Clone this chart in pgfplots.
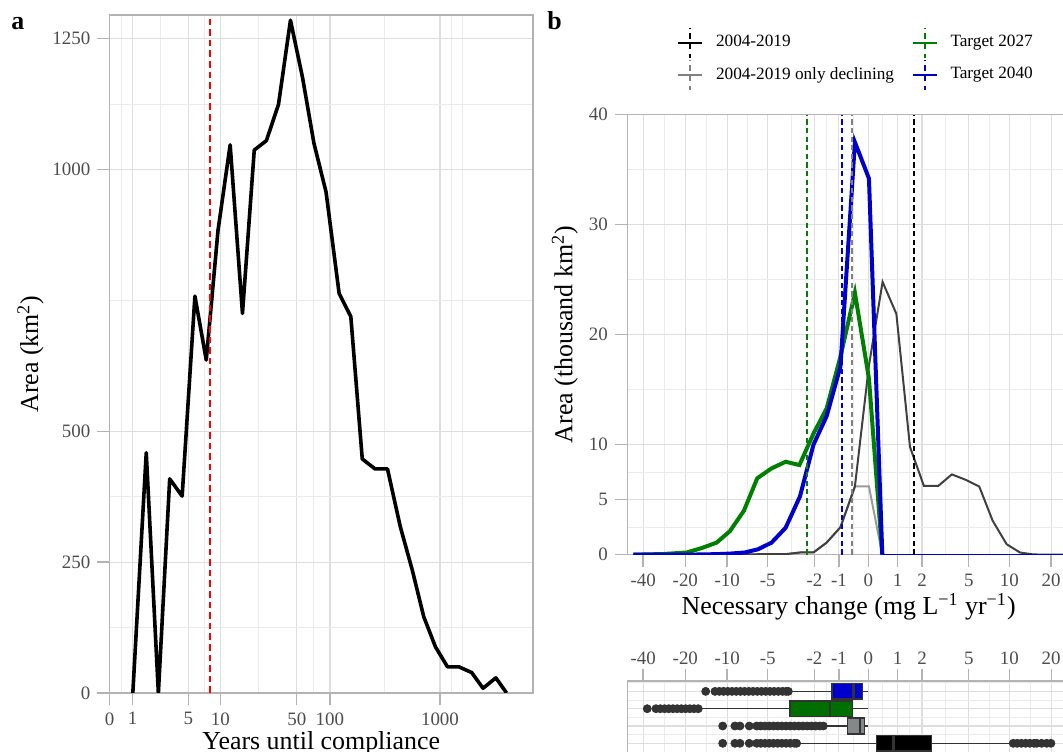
\documentclass[border=0pt]{standalone}
\usepackage{fontspec}
\setmainfont{Liberation Serif}
\usepackage{pgfplots}
\pgfplotsset{compat=1.18}
\usepgfplotslibrary{statistics}

\definecolor{tickgray}{HTML}{4D4D4D}
\definecolor{bordergray}{HTML}{B3B3B3}
\definecolor{gridmaj}{HTML}{DEDEDE}
\definecolor{gridmin}{HTML}{EBEBEB}
\definecolor{bgreen}{HTML}{008000}
\definecolor{bblue}{HTML}{0000CD}
\definecolor{dgray}{HTML}{404040}
\definecolor{lgray}{HTML}{9A9A9A}
\definecolor{vgray}{HTML}{808080}
\definecolor{boxgreen}{HTML}{006E00}
\definecolor{boxgray}{HTML}{848888}
\definecolor{dotgray}{HTML}{333333}

\pgfplotsset{
  gg/.style={
    scale only axis,
    axis line style={bordergray, line width=0.7bp},
    tick style={bordergray, line width=0.7bp},
    major tick length=6.2bp, minor tick length=0pt,
    tick align=outside,
    grid=both,
    major grid style={gridmaj, line width=0.6bp},
    minor grid style={gridmin, line width=0.45bp},
    ticklabel style={font=\fontsize{9.5}{11}\selectfont, text=tickgray},
    label style={font=\fontsize{13}{15}\selectfont},
  },
  % pseudo-log x axis of panel b (positions = asinh(x/2)/ln 10)
  changex/.style={
    xmin=-1.715, xmax=1.436,
    xtick={-1.6023,-1.3021,-1.0043,-0.7154,-0.3828,-0.2090,0,0.2090,0.3828,0.7154,1.0043,1.3021},
    xticklabels={-40,-20,-10,-5,-2,-1,0,1,2,5,10,20},
    minor xtick={-1.4522,-1.1532,-0.8598,-0.5491,-0.2959,-0.1045,0.1045,0.2959,0.5491,0.8598,1.1532},
  },
  vline/.style={line width=1bp, dash pattern=on 2.6bp off 1.7bp},
}

\begin{document}
\begin{tikzpicture}
\path[use as bounding box] (0,0) rectangle (531.5bp,376bp);

\node[anchor=base west, inner sep=0pt, font=\fontsize{13}{15}\selectfont\bfseries] at (5.5bp,361bp) {a};
\node[anchor=base west, inner sep=0pt, font=\fontsize{13}{15}\selectfont\bfseries] at (273.5bp,361bp) {b};

% ---------- panel a ----------
\begin{axis}[gg,
  at={(54.85bp,29.5bp)}, anchor=south west,
  width=211.55bp, height=339bp,
  xmin=0, xmax=3.843, ymin=0, ymax=1295,
  xtick={0,0.20899,0.71539,1.00428,1.69915,2.00004,3.0},
  xticklabels={0,1,5,10,50,100,1000},
  minor xtick={0.1045,0.4622,0.8598,1.3517,1.8496,2.5,3.1,3.2},
  ytick={0,250,500,1000,1250},
  yticklabels={0,250,500,1000,1250},
  minor ytick={125,375,750,1125},
  xtick pos=left, ytick pos=left,
  xlabel={Years until compliance},
  ylabel={Area (km\textsuperscript{2})},
  xlabel style={at={(axis description cs:0.5,-0.0826)}, anchor=base},
  ylabel style={at={(axis description cs:-0.187,0.5)}, anchor=center},
]
\addplot[black, line width=1.8bp, line join=round] coordinates {
 (0.21,0) (0.332,459) (0.442,0) (0.545,409) (0.658,376) (0.774,758)
 (0.877,636) (0.984,884) (1.094,1047) (1.206,725) (1.313,1037) (1.423,1055)
 (1.533,1124) (1.642,1285) (1.752,1175) (1.855,1050) (1.965,957) (2.084,763)
 (2.19,719) (2.294,447) (2.41,428) (2.523,428) (2.639,318) (2.748,235)
 (2.852,146) (2.959,88) (3.068,50) (3.172,50) (3.288,39) (3.391,9)
 (3.507,29) (3.605,0)
};
\addplot[red, line width=1bp, dash pattern=on 3.3bp off 2bp] coordinates {(0.912,0) (0.912,1295)};
\end{axis}

% ---------- panel b ----------
\begin{axis}[gg, changex,
  at={(313.65bp,98.65bp)}, anchor=south west,
  width=221.35bp, height=220bp,
  ymin=0, ymax=40,
  ytick={0,5,10,20,30,40},
  yticklabels={0,5,10,20,30,40},
  minor ytick={2.5,7.5,15,25,35},
  xtick pos=left, ytick pos=left,
  xlabel={Necessary change (mg L\textsuperscript{−1} yr\textsuperscript{−1})},
  ylabel={Area (thousand km\textsuperscript{2})},
  xlabel style={at={(axis description cs:0.5,-0.135)}, anchor=base},
  ylabel style={at={(axis description cs:-0.141,0.5)}, anchor=center},
  legend columns=2, legend cell align=left,
  legend style={at={(axis description cs:0.1123,1.2)}, anchor=north west,
    draw=none, fill=none, inner sep=0pt, outer sep=0pt,
    nodes={inner sep=0pt},
    font=\fontsize{8.65}{10}\selectfont,
    /tikz/every odd column/.append style={column sep=6.5bp},
    /tikz/every even column/.append style={column sep=8.7bp}},
  legend image code/.code={
    \draw[line width=1bp] (0bp,0bp) -- (12bp,0bp);
    \draw[line width=1bp, dash pattern=on 3bp off 2.2bp, dash phase=1bp] (6bp,-7.5bp) -- (6bp,7.5bp);
  },
]
\addlegendimage{black}\addlegendentry{2004-2019}
\addlegendimage{bgreen}\addlegendentry{Target 2027}
\addlegendimage{vgray}\addlegendentry{2004-2019 only declining}
\addlegendimage{bblue}\addlegendentry{Target 2040}

% 2004-2019 only declining
\addplot[lgray, line width=1bp, forget plot] coordinates {
 (-1.672,0) (-0.588,0.05) (-0.486,0.2) (-0.39,0.2) (-0.296,1.1) (-0.198,2.5)
 (-0.095,6.2) (0.005,6.2) (0.1,0)
};
% 2004-2019
\addplot[dgray, line width=1bp, forget plot] coordinates {
 (-1.672,0) (-0.588,0.05) (-0.486,0.2) (-0.39,0.2) (-0.296,1.1) (-0.198,2.5)
 (-0.095,6.2) (0.005,17.2) (0.102,24.8) (0.2,21.9) (0.297,9.8) (0.396,6.25)
 (0.498,6.25) (0.595,7.3) (0.695,6.8) (0.79,6.2) (0.885,3.1) (0.985,0.95)
 (1.08,0.2) (1.175,0.02) (1.436,0)
};
% Target 2027
\addplot[bgreen, line width=2bp, forget plot] coordinates {
 (-1.672,0) (-1.46,0.06) (-1.293,0.2) (-1.186,0.6) (-1.079,1.1) (-0.984,2.15)
 (-0.885,4.0) (-0.79,6.95) (-0.688,7.85) (-0.588,8.45) (-0.49,8.15) (-0.39,11.0)
 (-0.296,13.3) (-0.198,18.0) (-0.095,23.8) (0.005,16.0) (0.1,0)
};
% Target 2040
\addplot[bblue, line width=2bp, forget plot] coordinates {
 (-1.672,0) (-1.30,0) (-1.08,0.05) (-0.984,0.1) (-0.878,0.2) (-0.783,0.5)
 (-0.688,1.1) (-0.588,2.45) (-0.486,5.3) (-0.39,10.0) (-0.296,12.6) (-0.198,17.1)
 (-0.095,37.5) (0.005,34.2) (0.1,0)
};
\addplot[bblue, line width=0.8bp, forget plot] coordinates {(0.1,0) (1.436,0)};

% medians
\addplot[bgreen, vline, forget plot] coordinates {(-0.434,0) (-0.434,40)};
\addplot[bblue, vline, forget plot] coordinates {(-0.189,0) (-0.189,40)};
\addplot[vgray, vline, forget plot] coordinates {(-0.118,0) (-0.118,40)};
\addplot[black, vline, forget plot] coordinates {(0.327,0) (0.327,40)};
\end{axis}

% ---------- box plots ----------
\begin{axis}[gg, changex,
  at={(313.65bp,35.5bp)}, anchor=north west,
  width=221.35bp, height=36.35bp,
  ymin=0.4, ymax=4.6, y dir=reverse,
  ytick={1,2,3,4}, yticklabels={},
  minor ytick={0.5,1.5,2.5,3.5},
  xtick pos=right, xticklabel pos=right,
  xticklabel style={yshift=-1.5bp},
  ytick style={draw=none},
  boxplot/draw direction=x,
  boxplot/box extend=0.9,
  boxplot/whisker extend=0,
  boxplot/every median/.style={line width=1.4bp},
]
\addplot[only marks, mark=*, mark size=2bp, dotgray] coordinates {
 (-1.157,1) (-1.091,1) (-1.06,1) (-1.03,1) (-1.0,1) (-0.97,1) (-0.94,1) (-0.91,1)
 (-0.88,1) (-0.85,1) (-0.82,1) (-0.79,1) (-0.76,1) (-0.73,1) (-0.70,1) (-0.67,1)
 (-0.64,1) (-0.61,1) (-0.585,1) (-0.569,1)
 (-1.573,2) (-1.511,2) (-1.48,2) (-1.45,2) (-1.42,2) (-1.39,2) (-1.36,2) (-1.33,2)
 (-1.30,2) (-1.27,2) (-1.24,2) (-1.21,2)
 (-1.036,3) (-0.949,3) (-0.913,3) (-0.847,3) (-0.794,3) (-0.765,3) (-0.735,3)
 (-0.705,3) (-0.675,3) (-0.645,3) (-0.615,3) (-0.585,3) (-0.555,3) (-0.525,3)
 (-0.495,3) (-0.465,3) (-0.435,3) (-0.405,3) (-0.375,3) (-0.345,3) (-0.32,3)
 (-1.036,4) (-0.949,4) (-0.913,4) (-0.847,4) (-0.794,4) (-0.765,4) (-0.735,4)
 (-0.705,4) (-0.675,4) (-0.645,4) (-0.615,4) (-0.585,4) (-0.555,4) (-0.525,4)
 (-0.51,4) (1.032,4) (1.06,4) (1.09,4) (1.12,4) (1.15,4) (1.18,4) (1.199,4)
 (1.234,4) (1.27,4) (1.30,4)
};
\addplot[draw=dotgray, fill=bblue, line width=0.8bp,
  boxplot prepared={draw position=1, lower whisker=-0.569, lower quartile=-0.26,
  median=-0.107, upper quartile=-0.04, upper whisker=0}] coordinates {};
\addplot[draw=dotgray, fill=boxgreen, line width=0.8bp,
  boxplot prepared={draw position=2, lower whisker=-1.21, lower quartile=-0.557,
  median=-0.273, upper quartile=-0.111, upper whisker=0}] coordinates {};
\addplot[draw=dotgray, fill=boxgray, line width=0.8bp,
  boxplot prepared={draw position=3, lower whisker=-0.32, lower quartile=-0.149,
  median=-0.059, upper quartile=-0.028, upper whisker=0}] coordinates {};
\addplot[draw=dotgray, fill=black, line width=0.8bp,
  boxplot prepared={draw position=4, lower whisker=-0.51, lower quartile=0.06,
  median=0.178, upper quartile=0.451, upper whisker=1.032}] coordinates {};
\end{axis}
\end{tikzpicture}
\end{document}
